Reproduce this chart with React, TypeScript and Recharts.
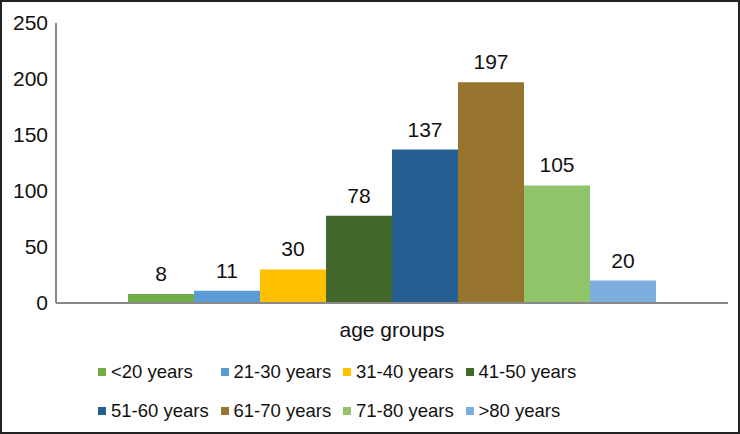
import { BarChart, Bar, XAxis, YAxis, LabelList } from 'recharts'

const categories = ['age groups']
const seriesNames = [
  '<20 years', '21-30 years', '31-40 years', '41-50 years',
  '51-60 years', '61-70 years', '71-80 years', '>80 years',
]
const seriesValues = [8, 11, 30, 78, 137, 197, 105, 20]
const seriesColors = [
  '#70ad47', '#5b9bd5', '#ffc000', '#43682b',
  '#255e91', '#97742d', '#8fc46b', '#7cafdd',
]
const yTicks = [0, 50, 100, 150, 200, 250]

const font = '"Liberation Sans", Arial, sans-serif'

const data = categories.map((c) => {
  const row: Record<string, string | number> = { name: c }
  seriesNames.forEach((s, i) => { row[s] = seriesValues[i] })
  return row
})

function LegendBox() {
  return (
    <div style={{ position: 'absolute', top: 361, left: 0, width: 740, height: 70, fontFamily: font }}>
      {seriesNames.map((s, i) => (
        <div key={s} style={{
          position: 'absolute',
          left: 98 + (i % 4) * 122.5,
          top: Math.floor(i / 4) * 39,
          display: 'flex', alignItems: 'center',
          fontSize: 18.5, color: '#111', whiteSpace: 'nowrap', height: 22,
        }}>
          <span style={{ width: 8, height: 8, background: seriesColors[i], marginRight: 5 }} />
          {s}
        </div>
      ))}
    </div>
  )
}

export default function App() {
  return (
    <div style={{
      position: 'absolute', top: 0, left: 0, width: 740, height: 434,
      border: '2px solid #222', boxSizing: 'border-box', background: '#fff',
    }}>
      <style>{'body{margin:0}'}</style>
      <div style={{ position: 'absolute', top: -2, left: -2 }}>
        <BarChart width={740} height={434} data={data}
          margin={{ top: 23, right: 12, left: 0, bottom: 101 }}
          barCategoryGap={72} barGap={0}>
          <XAxis dataKey="name" height={30} axisLine={{ stroke: '#898989', strokeWidth: 2 }}
            tickLine={false} tickMargin={13}
            tick={{ fill: '#111', fontSize: 21, fontFamily: font }} />
          <YAxis width={56} domain={[0, 250]} ticks={yTicks}
            axisLine={{ stroke: '#898989', strokeWidth: 2 }} tickLine={false}
            tick={{ fill: '#111', fontSize: 21, fontFamily: font }} />
          {seriesNames.map((s, i) => (
            <Bar key={s} dataKey={s} fill={seriesColors[i]} isAnimationActive={false}>
              <LabelList dataKey={s} position="top" offset={13}
                style={{ fill: '#111', fontSize: 21, fontFamily: font }} />
            </Bar>
          ))}
        </BarChart>
        <LegendBox />
      </div>
    </div>
  )
}
